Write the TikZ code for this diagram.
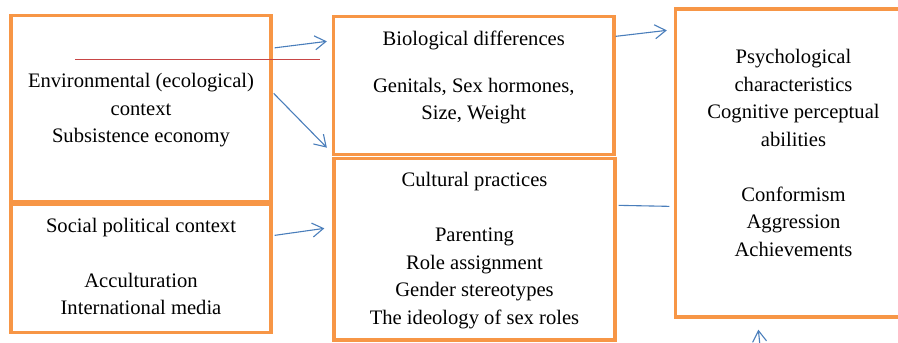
\documentclass[tikz,border=0pt]{standalone}
\usepackage{fontspec}
\setmainfont{Liberation Serif}
\usepackage{tikz}
\usetikzlibrary{arrows.meta,positioning,calc}
\definecolor{boxorange}{HTML}{F79646}
\definecolor{linkblue}{HTML}{4A7EBB}
\definecolor{strayred}{RGB}{200,70,70}

\begin{document}
\begin{tikzpicture}[x=1pt,y=-1pt,line join=miter,
    box/.style={draw=boxorange,line width=3.3pt,rectangle,inner sep=0pt},
    txt/.style={align=center,inner sep=0pt,font=\rmfamily\fontsize{20.6}{27.5}\selectfont},
    link/.style={draw=linkblue,line width=1.1pt,-{Straight Barb[length=11pt,width=14pt]}}]
      \useasboundingbox (0,0) rectangle (898,343);
      % boxes
      \node[box,minimum width=260pt,minimum height=186pt] (env) at (141,108.5) {};
      \node[box,minimum width=260pt,minimum height=128pt] (soc) at (141,268.5) {};
      \node[box,minimum width=280.5pt,minimum height=138pt] (bio) at (473.75,85.5) {};
      \node[box,minimum width=281pt,minimum height=181.5pt] (cult) at (474.5,249.25) {};
      \node[box,minimum width=236pt,minimum height=308pt] (psy) at (793.5,163) {};
      % texts
      \node[txt] (envtxt) at ($(env)+(0,2)$) {Environmental (ecological)\\context\\Subsistence economy};
      \node[txt] (soctxt) at ($(soc)+(0,-2)$) {Social political context\\[27.5pt]Acculturation\\International media};
      \node[txt] (biotxt) at ($(bio)+(0,-8)$) {Biological differences\\[19pt]Genitals, Sex hormones,\\Size, Weight};
      \node[txt] (culttxt) at ($(cult)+(0,1.5)$) {Cultural practices\\[27.5pt]Parenting\\Role assignment\\Gender stereotypes\\The ideology of sex roles};
      \node[txt] (psytxt) at ($(psy)+(0,-10)$) {Psychological\\characteristics\\Cognitive perceptual\\abilities\\[27.5pt]Conformism\\Aggression\\Achievements};
      % connectors
      \draw[strayred,line width=1.3pt] ($(env.north west)+(66,45.5)$) -- ($(bio.north west)+(-11.5,44.5)$);
      \draw[link] ($(env.north east)+(2,34)$) -- ($(bio.north west)+(-5,26.5)$);
      \draw[link] ($(env.north east)+(1,79.5)$) -- ($(bio.south west)+(-5,-8.5)$);
      \draw[link] ($(soc.north east)+(2,32.5)$) -- ($(cult.north west)+(-8,71.5)$);
      \draw[link] ($(bio.north east)+(0,21.5)$) -- ($(psy.north west)+(-7,23)$);
      \draw[linkblue,line width=1.1pt] ($(cult.north east)+(2,48.5)$) -- ($(psy.north west)+(-4.5,199)$);
      \coordinate (below) at (760,346);
      \draw[link] (below) -- ($(psy.south west)+(84.5,11)$);
\end{tikzpicture}
\end{document}
